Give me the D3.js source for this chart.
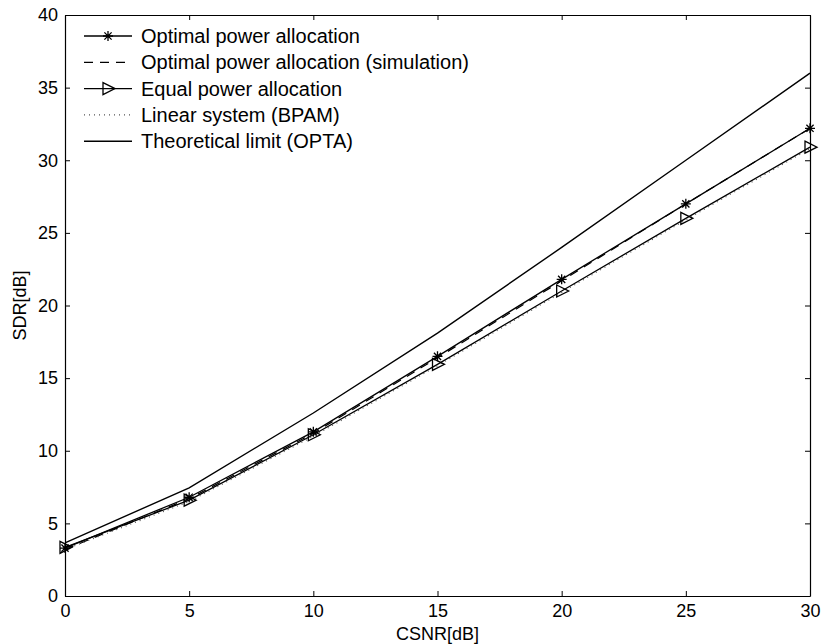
<!DOCTYPE html>
<html>
<head>
<meta charset="utf-8">
<script src="https://cdn.jsdelivr.net/npm/d3@7"></script>
<style>
  body { margin: 0; background: #fff; }
  svg text { font-family: "Liberation Sans", Arial, sans-serif; fill: #000; }
</style>
</head>
<body>
<div id="svg_container"></div>
<script>
// values
const csnr = [0, 5, 10, 15, 20, 25, 30];
const optimal = [3.3, 6.8, 11.3, 16.5, 21.8, 27.0, 32.2];
const optimalSim = [3.2, 6.7, 11.2, 16.4, 21.7, 27.0, 32.2];
const equal = [3.35, 6.6, 11.1, 15.95, 21.0, 26.0, 30.9];
const bpam = [3.2, 6.5, 11.0, 15.85, 20.9, 25.9, 30.8];
const opta = [3.65, 7.45, 12.6, 18.1, 24.0, 30.0, 36.0];
const xTicks = [0, 5, 10, 15, 20, 25, 30];
const yTicks = [0, 5, 10, 15, 20, 25, 30, 35, 40];
const legendLabels = [
    "Optimal power allocation",
    "Optimal power allocation (simulation)",
    "Equal power allocation",
    "Linear system (BPAM)",
    "Theoretical limit (OPTA)"
];

function createGraph() {
    let width = 822;
    let height = 644;
    const margin = { left: 65, right: 12, top: 15, bottom: 48 };

    const svg = d3.select('#svg_container').append("svg")
        .attr("width", width)
        .attr("height", height);

    const x = d3.scaleLinear().domain([0, 30]).range([margin.left, width - margin.right]);
    const y = d3.scaleLinear().domain([0, 40]).range([height - margin.bottom, margin.top]);

    // axes, ticks inward on all four sides
    svg.append("g")
        .attr("transform", `translate(0,${y(0)})`)
        .call(d3.axisBottom(x).tickValues(xTicks).tickSizeInner(-5).tickSizeOuter(0).tickPadding(8))
        .call(g => g.selectAll("text").attr("font-size", 18));
    svg.append("g")
        .attr("transform", `translate(0,${y(40)})`)
        .call(d3.axisTop(x).tickValues(xTicks).tickSizeInner(-5).tickSizeOuter(0).tickFormat(""));
    svg.append("g")
        .attr("transform", `translate(${x(0)},0)`)
        .call(d3.axisLeft(y).tickValues(yTicks).tickSizeInner(-5).tickSizeOuter(0).tickPadding(7))
        .call(g => g.selectAll("text").attr("font-size", 18));
    svg.append("g")
        .attr("transform", `translate(${x(30)},0)`)
        .call(d3.axisRight(y).tickValues(yTicks).tickSizeInner(-5).tickSizeOuter(0).tickFormat(""));
    svg.selectAll(".domain").attr("stroke", "#000").attr("stroke-width", 1.2);
    svg.selectAll(".tick line").attr("stroke", "#000");

    svg.append("text")
        .attr("x", (x(0) + x(30)) / 2)
        .attr("y", height - 4)
        .attr("text-anchor", "middle")
        .attr("font-size", 18)
        .text("CSNR[dB]");
    svg.append("text")
        .attr("transform", `translate(26,${(y(0) + y(40)) / 2}) rotate(-90)`)
        .attr("text-anchor", "middle")
        .attr("font-size", 18)
        .text("SDR[dB]");

    const line = d3.line().x(d => x(d[0])).y(d => y(d[1]));
    const zip = vals => csnr.map((c, i) => [c, vals[i]]);

    const series = [
        { vals: optimal, dash: null, marker: "star", color: "#000", w: 1.3 },
        { vals: optimalSim, dash: "9,7", marker: null, color: "#000", w: 1.2 },
        { vals: equal, dash: null, marker: "tri", color: "#000", w: 1.3 },
        { vals: bpam, dash: "1,4", marker: null, color: "#555", w: 1.2 },
        { vals: opta, dash: null, marker: null, color: "#000", w: 1.4 }
    ];

    const plot = svg.append("g");
    series.forEach(s => {
        plot.append("path")
            .datum(zip(s.vals))
            .attr("fill", "none")
            .attr("stroke", s.color)
            .attr("stroke-width", s.w)
            .attr("stroke-dasharray", s.dash)
            .attr("d", line);
    });

    const star = "M-5,0H5M0,-5V5M-3.6,-3.6L3.6,3.6M-3.6,3.6L3.6,-3.6";
    const tri = "M-5,-6L7,0L-5,6Z";
    function drawMarker(g, type, cx, cy) {
        g.append("path")
            .attr("transform", `translate(${cx},${cy})`)
            .attr("d", type === "star" ? star : tri)
            .attr("fill", "none")
            .attr("stroke", "#000")
            .attr("stroke-width", 1.3);
    }
    series.forEach(s => {
        if (!s.marker) return;
        zip(s.vals).forEach(d => drawMarker(plot, s.marker, x(d[0]), y(d[1])));
    });

    // legend (no box)
    const lg = svg.append("g");
    series.forEach((s, i) => {
        const ly = 36 + i * 26.3;
        lg.append("line")
            .attr("x1", 84).attr("x2", 132)
            .attr("y1", ly).attr("y2", ly)
            .attr("stroke", s.color)
            .attr("stroke-width", s.w)
            .attr("stroke-dasharray", s.dash);
        if (s.marker) drawMarker(lg, s.marker, 108, ly);
        lg.append("text")
            .attr("x", 141)
            .attr("y", ly + 7)
            .attr("font-size", 20)
            .text(legendLabels[i]);
    });
}

document.addEventListener('DOMContentLoaded', function (e) {
    createGraph();
});
</script>
</body>
</html>
